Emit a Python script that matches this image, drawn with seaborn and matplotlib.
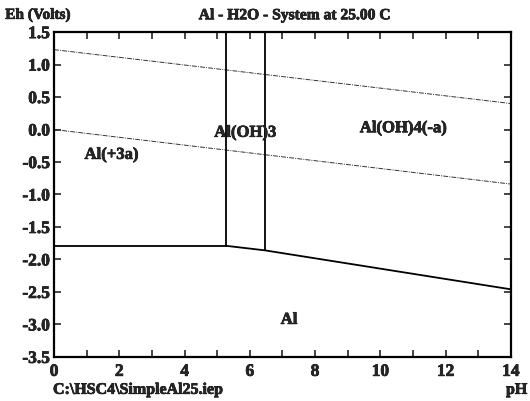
import matplotlib
matplotlib.use("Agg")
import matplotlib.pyplot as plt
import matplotlib.patheffects as pe
import seaborn as sns
from matplotlib.ticker import MultipleLocator, FormatStrFormatter

sns.set_style("white")
plt.rcParams["font.family"] = ["Liberation Serif", "DejaVu Serif"]
plt.rcParams["font.weight"] = "bold"

# Water stability limits (Eh vs pH)
water_ph = [0, 14]
o2_eh = [1.23, 0.40]
h2_eh = [0.0, -0.84]

# Phase boundaries
al3_al_ph = [0, 5.27]
al3_al_eh = [-1.79, -1.79]
hyd_al_ph = [5.27, 6.46, 14]
hyd_al_eh = [-1.79, -1.86, -2.46]
al3_hyd_ph = [5.27, 5.27]
al3_hyd_eh = [-1.79, 1.5]
hyd_aluminate_ph = [6.46, 6.46]
hyd_aluminate_eh = [-1.86, 1.5]

# Stability field labels
field_names = ["Al(+3a)", "Al(OH)3", "Al(OH)4(-a)", "Al"]
field_ph = [1.76, 5.86, 10.7, 7.2]
field_eh = [-0.39, -0.05, 0.02, -2.93]

heavy = [pe.withStroke(linewidth=0.5, foreground="black")]

fig = plt.figure(figsize=(5.30, 4.01), dpi=100)
ax = fig.add_axes([0.102, 0.110, 0.862, 0.810])

dash = (0, (5, 1.2, 1, 1.2))
sns.lineplot(x=water_ph, y=o2_eh, ax=ax, color="#333333", lw=0.7,
             linestyle=dash, estimator=None, sort=False)
sns.lineplot(x=water_ph, y=h2_eh, ax=ax, color="#333333", lw=0.7,
             linestyle=dash, estimator=None, sort=False)

for px, py in [(al3_al_ph, al3_al_eh), (hyd_al_ph, hyd_al_eh),
               (al3_hyd_ph, al3_hyd_eh), (hyd_aluminate_ph, hyd_aluminate_eh)]:
    sns.lineplot(x=px, y=py, ax=ax, color="black", lw=1.3,
                 estimator=None, sort=False)

for name, px, py in zip(field_names, field_ph, field_eh):
    ax.text(px, py, name, ha="center", va="center", fontsize=12,
            fontweight="bold", path_effects=heavy)

ax.set_xlim(0, 14)
ax.set_ylim(-3.5, 1.5)
ax.xaxis.set_major_locator(MultipleLocator(2))
ax.xaxis.set_minor_locator(MultipleLocator(1))
ax.yaxis.set_major_locator(MultipleLocator(0.5))
ax.yaxis.set_major_formatter(FormatStrFormatter("%.1f"))
ax.tick_params(which="both", direction="in", length=5, width=1.2,
               top=True, right=True, bottom=True, left=True,
               labelsize=12.5, pad=3)
ax.tick_params(axis="x", which="both", pad=5)
for lab in ax.get_xticklabels() + ax.get_yticklabels():
    lab.set_fontweight("bold")
    lab.set_path_effects(heavy)
for sp in ax.spines.values():
    sp.set_linewidth(1.6)
    sp.set_color("black")
ax.set_xlabel("")
ax.set_ylabel("")

fig.text(0.010, 0.962, "Eh (Volts)", fontsize=11, fontweight="bold",
         ha="left", va="center", path_effects=heavy)
fig.text(0.555, 0.962, "Al - H2O - System at 25.00 C", fontsize=11.2,
         fontweight="bold", ha="center", va="center", path_effects=heavy)
fig.text(0.100, 0.008, "C:\\HSC4\\SimpleAl25.iep", fontsize=11.5,
         fontweight="bold", ha="left", va="bottom", path_effects=heavy)
fig.text(0.995, 0.008, "pH", fontsize=11.5, fontweight="bold",
         ha="right", va="bottom", path_effects=heavy)

fig.savefig("out.png", dpi=100)
